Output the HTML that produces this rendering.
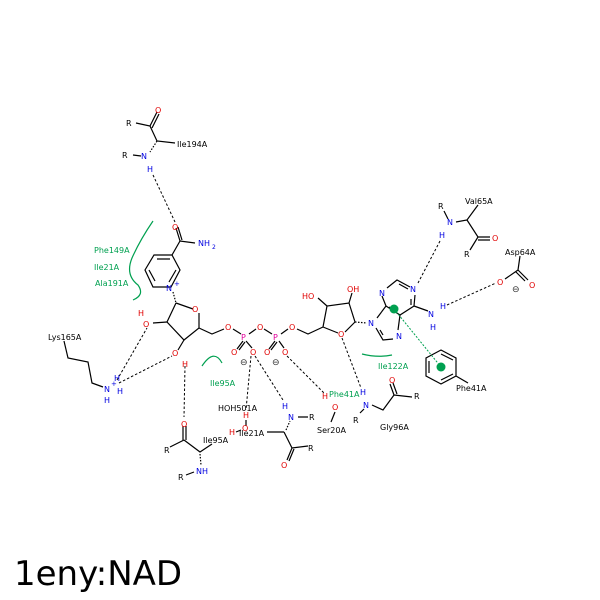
<!DOCTYPE html>
<html><head><style>body{margin:0;background:#fff}svg{display:block}text{font-family:"DejaVu Sans","Liberation Sans",sans-serif}</style></head><body>
<svg width="600" height="600" viewBox="0 0 600 600" xmlns="http://www.w3.org/2000/svg">
<g stroke="#000" stroke-width="1.2" fill="none">
<path d="M136,123 L150,126 L157,141 L175,143"/><path d="M150,126 L157,112 M152,128 L159,114"/>
<path d="M133,155 L141,156"/><path d="M157,141 L150,152" stroke-dasharray="1.5,1.5"/>
<path d="M172,255 L180,241 L195,243 M180,241 L176,228 M182,240 L178,227"/>
<path d="M154,255 L172,255 L180,270 L171,287 L153,287 L145,270 Z"/>
<path d="M157,259 L170,259 M176,270 L169,282 M149,270 L155,281"/>
<path d="M173,292 L176,303" stroke-dasharray="1.5,1.5"/>
<path d="M176,303 L193,309 M199,313 L199,328 L184,340 L167,322 L176,303"/>
<path d="M167,322 L153,323 M184,340 L178,350"/>
<path d="M199,328 L212,334 L224,329" />
<path d="M233,329 L241,334 M249,334 L256,329 M264,329 L272,334 M281,334 L288,329 M297,329 L308,334 L323,327"/>
<path d="M243,341 L237,349 M245,342 L239,350 M246,341 L252,348 M275,341 L269,349 M277,342 L271,350 M279,341 L284,348"/>
<path d="M323,327 L338,333 M345,332 L355,322 L349,303 L327,306 L323,327"/>
<path d="M327,306 L318,298 M349,303 L352,293"/>
<path d="M355,322 L367,323" stroke-dasharray="1.5,1.5"/>
<path d="M386,306 L382,296 M387,288 L397,280 L410,287 M415,295 L414,306 L400,315 L386,306 M400,315 L398,330 M393,339 L383,340 L376,328 M377,318 L386,306 M414,306 L428,311"/>
<path d="M399,284 L408,289 M411,299 L411,305 M389,307 L397,312 M383,335 L380,330"/>
<path d="M444,211 L448,219 M456,222 L467,220 L478,205 M467,220 L478,237 L470,250 M478,237 L490,237 M478,240 L490,240"/>
<path d="M520,256 L518,270 L505,279 M518,270 L528,280 M516,272 L525,281"/>
<path d="M441,350 L456,358 L456,376 L441,384 L426,376 L426,358 Z M456,376 L468,383"/>
<path d="M441,354 L453,360 M453,374 L441,380 M429,373 L429,361"/>
<path d="M360,413 L364,409 M372,405 L383,410 L394,395 L412,397 M394,395 L390,384 M397,394 L393,383"/>
<path d="M335,412 L331,422"/>
<path d="M298,417 L308,417 M284,432 L292,448 L308,446 M292,448 L287,460 M294,449 L289,461 M284,432 L267,432"/>
<path d="M286,430 L290,421" stroke-dasharray="1.5,1.5"/>
<path d="M183,426 L183,440 M186,426 L186,440 M184,440 L170,447 M184,440 L200,452 L212,444 M194,472 L186,475"/>
<path d="M200,454 L201,465" stroke-dasharray="1.5,1.5"/>
<path d="M246,420 L246,426 M241,430 L236,432"/>
<path d="M64,341 L68,358 L88,362 L92,383 L103,387"/>
</g>
<g stroke="#000" stroke-width="1" stroke-dasharray="2.5,2" fill="none">
<path d="M153,175 L175,222"/><path d="M440,241 L418,283"/><path d="M447,305 L496,283"/>
<path d="M117,380 L147,328"/><path d="M119,383 L172,356"/><path d="M185,366 L184,417"/>
<path d="M255,356 L283,400"/><path d="M251,356 L246,410"/><path d="M287,356 L325,394"/>
<path d="M342,338 L361,388"/>
</g>
<path d="M394,309 L441,367" stroke="#00a050" stroke-width="1" stroke-dasharray="2,1.5" fill="none"/>
<circle cx="394" cy="309" r="4.5" fill="#00a050"/><circle cx="441" cy="367" r="4.5" fill="#00a050"/>
<g stroke="#00a050" stroke-width="1.2" fill="none">
<path d="M153,221 Q140,240 132,258 Q125,275 138,285 Q145,295 133,300"/>
<path d="M202,366 Q214,348 222,363"/>
<path d="M362,354 Q378,358 392,355"/>
</g>
<g font-size="8" fill="#000">
<text x="126" y="126">R</text><text x="122" y="158">R</text>
<text x="177" y="147">Ile194A</text>
<text x="48" y="340">Lys165A</text>
<text x="164" y="453">R</text><text x="178" y="480">R</text><text x="203" y="443">Ile95A</text>
<text x="218" y="411">HOH501A</text><text x="239" y="436">Ile21A</text>
<text x="309" y="420">R</text><text x="308" y="451">R</text>
<text x="317" y="433">Ser20A</text>
<text x="353" y="423">R</text><text x="414" y="399">R</text><text x="380" y="430">Gly96A</text>
<text x="438" y="209">R</text><text x="464" y="257">R</text><text x="465" y="204">Val65A</text>
<text x="505" y="255">Asp64A</text>
<text x="456" y="391">Phe41A</text>
</g>
<g font-size="8" fill="#e00000">
<text x="155" y="113">O</text><text x="172" y="230">O</text>
<text x="192" y="312">O</text><text x="143" y="327">O</text><text x="138" y="316">H</text>
<text x="172" y="356">O</text><text x="182" y="367">H</text>
<text x="225" y="330">O</text><text x="257" y="330">O</text><text x="289" y="330">O</text>
<text x="231" y="355">O</text><text x="250" y="355">O</text><text x="264" y="355">O</text><text x="282" y="355">O</text>
<text x="338" y="337">O</text><text x="302" y="299">HO</text><text x="347" y="292">OH</text>
<text x="181" y="427">O</text><text x="281" y="468">O</text><text x="389" y="383">O</text>
<text x="332" y="410">O</text><text x="322" y="399">H</text>
<text x="243" y="418">H</text><text x="242" y="431">O</text><text x="229" y="435">H</text>
<text x="492" y="241">O</text><text x="497" y="285">O</text><text x="529" y="288">O</text>
</g>
<g font-size="8" fill="#e0009a"><text x="241" y="340">P</text><text x="273" y="340">P</text></g>
<g font-size="8" fill="#0000e0">
<text x="141" y="159">N</text><text x="147" y="172">H</text>
<text x="198" y="246">NH</text><text x="212" y="249" font-size="6">2</text>
<text x="166" y="291">N</text><text x="174" y="286" font-size="7">+</text>
<text x="368" y="326">N</text><text x="396" y="339">N</text><text x="379" y="296">N</text><text x="410" y="292">N</text>
<text x="428" y="317">N</text><text x="440" y="309">H</text><text x="430" y="330">H</text>
<text x="447" y="225">N</text><text x="439" y="238">H</text>
<text x="104" y="392">N</text><text x="111" y="386" font-size="7">+</text><text x="114" y="381">H</text><text x="117" y="394">H</text><text x="104" y="403">H</text>
<text x="196" y="474">NH</text>
<text x="288" y="420">N</text><text x="282" y="409">H</text>
<text x="363" y="408">N</text><text x="360" y="395">H</text>
</g>
<g font-size="9" fill="#333"><text x="240" y="365">⊖</text><text x="272" y="365">⊖</text><text x="512" y="292">⊖</text></g>
<g font-size="8" fill="#00a050">
<text x="94" y="253">Phe149A</text><text x="94" y="270">Ile21A</text><text x="95" y="286">Ala191A</text>
<text x="210" y="386">Ile95A</text><text x="378" y="369">Ile122A</text><text x="329" y="397">Phe41A</text>
</g>
<text x="14" y="585" font-size="34" fill="#000">1eny:NAD</text>
</svg>
</body></html>
